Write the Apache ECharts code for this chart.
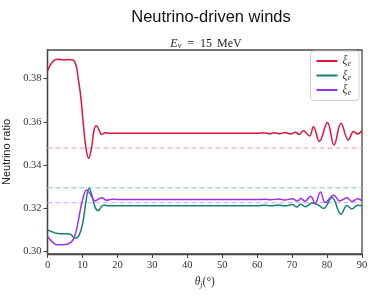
<!DOCTYPE html>
<html>
<head>
<meta charset="utf-8">
<script src="https://cdn.jsdelivr.net/npm/echarts@6/dist/echarts.min.js"></script>
<style>html,body{margin:0;padding:0;background:#fff;}#c{width:374px;height:295px;}</style>
</head>
<body>
<div id="c"></div>
<script>
const xTicks = [0, 10, 20, 30, 40, 50, 60, 70, 80, 90];
const yTicks = [0.30, 0.32, 0.34, 0.36, 0.38];
const seriesNames = ['ξe (1)', 'ξe (2)', 'ξe (3)'];
const legendLabels = ['e', 'e', 'e'];

const redAngles = [0, 1, 2, 3, 4.5, 6, 7.3, 8.2, 8.8, 9.5, 10.2, 11, 11.8, 12.6, 13.3, 14.0, 14.8, 15.5, 16.5, 17.5, 20, 30, 40, 50, 60, 62, 63.5, 65, 66.5, 68, 69.5, 71, 72, 73.2, 75, 76.1, 77.8, 80.1, 82, 84, 86.1, 87.6, 88.7, 90];
const redValues = [0.3837, 0.3868, 0.3886, 0.3890, 0.3887, 0.3889, 0.3887, 0.3860, 0.3800, 0.3720, 0.3600, 0.3480, 0.3431, 0.3480, 0.3560, 0.3582, 0.3560, 0.3541, 0.3550, 0.3547, 0.3547, 0.3547, 0.3547, 0.3547, 0.3547, 0.3549, 0.3545, 0.3550, 0.3545, 0.3551, 0.3544, 0.3552, 0.3542, 0.3559, 0.3535, 0.3578, 0.3509, 0.3597, 0.3493, 0.3594, 0.3516, 0.3555, 0.3544, 0.3559];

const tealAngles = [0, 1, 2, 3.5, 5, 6.4, 7.2, 8.0, 8.8, 9.5, 10.2, 10.9, 11.9, 12.8, 13.6, 14.5, 15.4, 16.2, 17.5, 20, 30, 40, 50, 60, 62, 64, 66, 68, 70, 71.3, 72.4, 73.8, 75.7, 77.6, 79, 81.4, 84, 85.7, 87.1, 88.8, 90];
const tealValues = [0.3100, 0.3093, 0.3086, 0.3082, 0.3082, 0.3081, 0.3070, 0.3062, 0.3068, 0.3095, 0.3140, 0.3220, 0.3292, 0.3255, 0.3205, 0.3189, 0.3207, 0.3215, 0.3211, 0.3212, 0.3212, 0.3212, 0.3212, 0.3212, 0.3214, 0.3211, 0.3215, 0.3211, 0.3217, 0.3206, 0.3218, 0.3207, 0.3224, 0.3214, 0.3199, 0.3250, 0.3172, 0.3213, 0.3197, 0.3214, 0.3212];

const purpleAngles = [0, 1, 2, 2.6, 4, 5.9, 7.3, 8.3, 9.3, 10.2, 11.2, 12.3, 13.6, 15.5, 16.9, 18.5, 20, 30, 40, 50, 60, 62, 64, 66, 68, 70, 71.5, 72.6, 73.7, 75.3, 76.6, 78.1, 79.5, 81.9, 83.6, 85.7, 87.1, 88.8, 90];
const purpleValues = [0.3069, 0.3050, 0.3036, 0.3031, 0.3031, 0.3034, 0.3054, 0.3100, 0.3184, 0.3250, 0.3284, 0.3265, 0.3234, 0.3249, 0.3237, 0.3242, 0.3241, 0.3241, 0.3241, 0.3240, 0.3240, 0.3242, 0.3239, 0.3243, 0.3238, 0.3244, 0.3234, 0.3245, 0.3232, 0.3256, 0.3222, 0.3275, 0.3226, 0.3260, 0.3234, 0.3249, 0.3231, 0.3244, 0.3234];

const refValues = [0.3478, 0.3295, 0.3226];
const refRange = [0, 90];

const colors = ['#dc143c', '#0f8276', '#9933ee'];
const refColors = ['#f8aabb', '#a9dbd6', '#dcb4f6'];

const pairs = (xs, ys) => xs.map((x, i) => [x, ys[i]]);
const mainData = [pairs(redAngles, redValues), pairs(tealAngles, tealValues), pairs(purpleAngles, purpleValues)];

const series = [];
refValues.forEach((v, i) => {
  series.push({
    name: 'ref' + i, type: 'line', silent: true, symbol: 'none', z: 1,
    data: refRange.map(x => [x, v]),
    lineStyle: { color: refColors[i], width: 1.3, type: [5, 3] }
  });
});
mainData.forEach((d, i) => {
  series.push({
    name: seriesNames[i], type: 'line', symbol: 'none', smooth: 0.4, z: 3,
    data: d, color: colors[i],
    lineStyle: { color: colors[i], width: 1.5 }
  });
});

const serif = 'Liberation Serif';
const sans = 'Liberation Sans';
const chart = echarts.init(document.getElementById('c'), null, { renderer: 'canvas' });
chart.setOption({
  animation: false,
  backgroundColor: '#fff',
  title: [
    { text: 'Neutrino-driven winds', left: 206, top: 4, textAlign: 'center',
      textStyle: { fontFamily: sans, fontSize: 16.5, fontWeight: 'normal', color: '#111' } },
    { text: '{i|E}{s|ν}{e|=}{n|15}{m|MeV}', left: 201, top: 33, textAlign: 'center',
      textStyle: { fontWeight: 'normal', rich: {
        i: { fontFamily: serif, fontStyle: 'italic', fontWeight: 'normal', fontSize: 12, color: '#222' },
        s: { fontFamily: serif, fontStyle: 'italic', fontWeight: 'normal', fontSize: 8, color: '#222', verticalAlign: 'bottom', padding: [4, 6, 0, 0] },
        e: { fontFamily: serif, fontWeight: 'normal', fontSize: 12, color: '#222', padding: [0, 6, 0, 0] },
        n: { fontFamily: serif, fontWeight: 'normal', fontSize: 12, color: '#222', padding: [0, 5, 0, 0] },
        m: { fontFamily: serif, fontWeight: 'normal', fontSize: 12, color: '#222' }
      } } }
  ],
  legend: {
    orient: 'vertical', right: 15, top: 51, data: seriesNames,
    icon: 'rect', itemWidth: 21, itemHeight: 2, itemGap: 2,
    padding: [4, 8, 4, 6],
    borderColor: '#d0d0d0', borderWidth: 1, borderRadius: 3, backgroundColor: '#fff',
    formatter: name => '{x|ξ}{s|' + legendLabels[seriesNames.indexOf(name)] + '}',
    textStyle: { rich: {
      x: { fontFamily: serif, fontStyle: 'italic', fontSize: 11.5, color: '#333' },
      s: { fontFamily: serif, fontStyle: 'italic', fontSize: 8, color: '#333', verticalAlign: 'bottom', padding: [5, 0, 0, 0] }
    } }
  },
  grid: { left: 47.5, right: 12, top: 50, bottom: 41, show: true, borderColor: '#444', borderWidth: 1.3,
    containLabel: false, outerBoundsMode: 'none' },
  xAxis: {
    type: 'value', min: 0, max: 90, interval: 10,
    name: '{t|θ}{s|j}{n|(°)}', nameLocation: 'middle', nameGap: 20,
    nameTextStyle: { rich: {
      t: { fontFamily: serif, fontStyle: 'italic', fontSize: 11.5, color: '#333' },
      s: { fontFamily: serif, fontStyle: 'italic', fontSize: 8, color: '#333', verticalAlign: 'bottom', padding: [5, 0, 0, 0] },
      n: { fontFamily: serif, fontSize: 11.5, color: '#333' }
    } },
    axisLine: { show: true, lineStyle: { color: '#444', width: 1.3 } },
    axisTick: { show: true, length: 4, lineStyle: { color: '#444', width: 1 }, customValues: xTicks },
    axisLabel: { fontFamily: serif, fontSize: 10.5, color: '#333', margin: 6, customValues: xTicks },
    splitLine: { show: false }
  },
  yAxis: {
    type: 'value', min: 0.2988, max: 0.3933,
    name: 'Neutrino ratio', nameLocation: 'middle', nameGap: 30,
    nameTextStyle: { fontFamily: sans, fontSize: 11, color: '#222' },
    axisLine: { show: true, lineStyle: { color: '#444', width: 1.3 } },
    axisTick: { show: true, length: 4, lineStyle: { color: '#444', width: 1 }, customValues: yTicks },
    axisLabel: { fontFamily: serif, fontSize: 10.5, color: '#333', margin: 6,
      customValues: yTicks, formatter: v => v.toFixed(2) },
    splitLine: { show: false }
  },
  series: series
});
</script>
</body>
</html>
